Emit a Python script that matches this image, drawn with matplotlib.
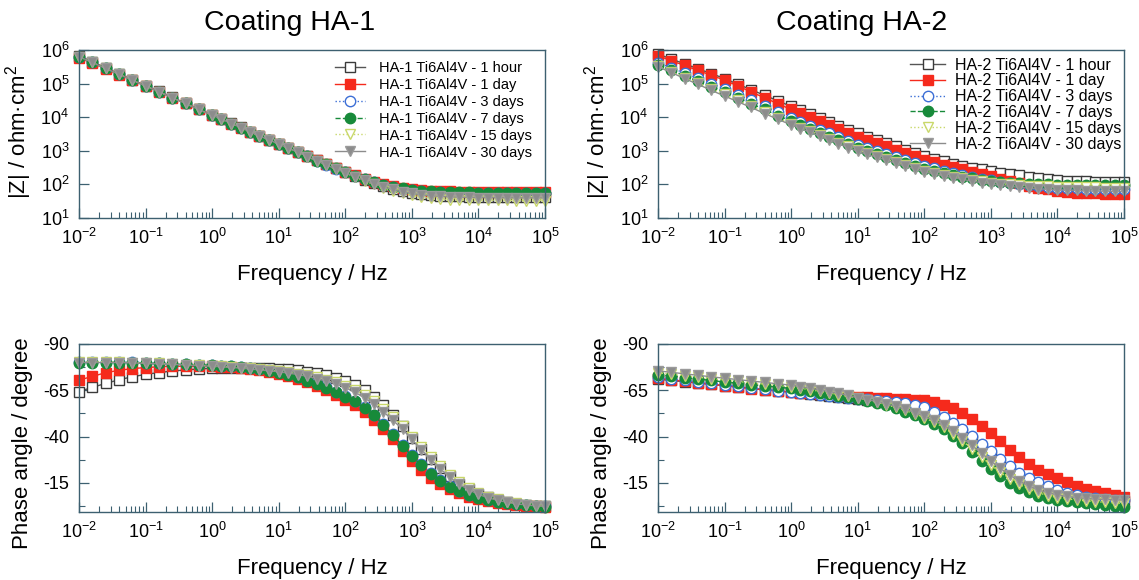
import numpy as np
import matplotlib
matplotlib.use("Agg")
import matplotlib.pyplot as plt
from matplotlib.ticker import FixedLocator, LogLocator, NullFormatter

plt.rcParams['font.family'] = ['Liberation Sans', 'DejaVu Sans']
plt.rcParams['mathtext.fontset'] = 'custom'
plt.rcParams['mathtext.rm'] = 'Liberation Sans'
plt.rcParams['mathtext.it'] = 'Liberation Sans:italic'
plt.rcParams['axes.unicode_minus'] = False

# log10 of frequency (Hz) for every measured point
log_f = [-2.0, -1.8, -1.6, -1.4, -1.2, -1.0, -0.8, -0.6, -0.4, -0.2,
         0.0, 0.14, 0.29, 0.43, 0.57, 0.71, 0.86, 1.0, 1.14, 1.29,
         1.43, 1.57, 1.71, 1.86, 2.0, 2.14, 2.29, 2.43, 2.57, 2.71,
         2.86, 3.0, 3.14, 3.29, 3.43, 3.57, 3.71, 3.86, 4.0, 4.14,
         4.29, 4.43, 4.57, 4.71, 4.86, 5.0]

times = ["1 hour", "1 day", "3 days", "7 days", "15 days", "30 days"]

# ---- Coating HA-1 : log10 |Z| (ohm cm2)
z1_1h = [5.82, 5.65, 5.47, 5.29, 5.11, 4.94, 4.77, 4.59, 4.42, 4.24,
         4.07, 3.95, 3.82, 3.70, 3.57, 3.45, 3.33, 3.21, 3.09, 2.97,
         2.85, 2.72, 2.60, 2.48, 2.37, 2.25, 2.14, 2.04, 1.95, 1.87,
         1.80, 1.75, 1.71, 1.68, 1.665, 1.65, 1.64, 1.635, 1.63, 1.63,
         1.63, 1.63, 1.63, 1.63, 1.63, 1.63]
z1_1d = [5.77, 5.61, 5.44, 5.27, 5.10, 4.93, 4.76, 4.58, 4.41, 4.23,
         4.06, 3.94, 3.81, 3.69, 3.56, 3.44, 3.32, 3.20, 3.08, 2.96,
         2.84, 2.72, 2.61, 2.49, 2.38, 2.27, 2.17, 2.08, 2.00, 1.94,
         1.89, 1.85, 1.83, 1.81, 1.80, 1.79, 1.78, 1.78, 1.77, 1.77,
         1.77, 1.77, 1.77, 1.77, 1.77, 1.77]
z1_3d = [5.80, 5.63, 5.45, 5.28, 5.10, 4.93, 4.76, 4.58, 4.41, 4.23,
         4.06, 3.94, 3.81, 3.69, 3.56, 3.44, 3.32, 3.20, 3.08, 2.96,
         2.84, 2.71, 2.59, 2.47, 2.36, 2.25, 2.15, 2.06, 1.98, 1.91,
         1.86, 1.82, 1.79, 1.77, 1.76, 1.75, 1.74, 1.74, 1.73, 1.73,
         1.73, 1.73, 1.73, 1.73, 1.73, 1.73]
z1_7d = [5.80, 5.63, 5.45, 5.28, 5.10, 4.93, 4.76, 4.58, 4.41, 4.23,
         4.06, 3.94, 3.81, 3.69, 3.56, 3.44, 3.32, 3.20, 3.08, 2.96,
         2.84, 2.71, 2.60, 2.48, 2.37, 2.26, 2.16, 2.07, 1.99, 1.93,
         1.88, 1.84, 1.81, 1.79, 1.78, 1.77, 1.76, 1.76, 1.75, 1.75,
         1.75, 1.75, 1.75, 1.75, 1.75, 1.75]
z1_15d = [5.80, 5.63, 5.45, 5.28, 5.10, 4.93, 4.76, 4.58, 4.41, 4.23,
          4.06, 3.94, 3.81, 3.69, 3.56, 3.44, 3.32, 3.20, 3.08, 2.96,
          2.83, 2.70, 2.58, 2.45, 2.34, 2.22, 2.10, 2.00, 1.90, 1.81,
          1.73, 1.67, 1.62, 1.59, 1.565, 1.55, 1.54, 1.535, 1.53, 1.53,
          1.525, 1.525, 1.52, 1.52, 1.52, 1.52]
z1_30d = [5.80, 5.63, 5.45, 5.28, 5.10, 4.93, 4.76, 4.58, 4.41, 4.23,
          4.06, 3.94, 3.81, 3.69, 3.56, 3.44, 3.32, 3.20, 3.08, 2.96,
          2.83, 2.70, 2.58, 2.46, 2.35, 2.23, 2.12, 2.02, 1.93, 1.85,
          1.78, 1.73, 1.69, 1.66, 1.645, 1.63, 1.62, 1.615, 1.61, 1.61,
          1.605, 1.605, 1.60, 1.60, 1.60, 1.60]

# ---- Coating HA-1 : phase angle (degree)
p1_1h = [-64.3, -66.6, -68.7, -70.7, -72.3, -73.6, -74.6, -75.4, -76.0, -76.5,
         -76.9, -77.1, -77.2, -77.3, -77.3, -77.2, -77.0, -76.7, -76.3, -75.8,
         -75.1, -74.3, -73.2, -71.8, -70.0, -67.8, -65.0, -61.5, -57.0, -51.5,
         -45.5, -39.5, -33.5, -28.0, -23.0, -18.5, -14.6, -11.5, -9.0, -7.2,
         -5.8, -4.7, -3.8, -3.2, -2.7, -2.3]
p1_1d = [-70.5, -72.5, -74.5, -75.8, -76.7, -77.3, -77.7, -78.0, -78.0, -78.0,
         -78.0, -77.8, -77.5, -77.0, -76.5, -75.8, -75.0, -74.0, -72.8, -71.3,
         -69.5, -67.5, -65.3, -62.7, -60.0, -57.0, -53.3, -49.0, -44.0, -38.5,
         -32.5, -27.0, -22.0, -17.8, -14.2, -11.5, -9.3, -7.5, -6.2, -5.1,
         -4.3, -3.6, -3.1, -2.7, -2.4, -2.1]
p1_3d = [-80.5, -80.5, -80.5, -80.3, -80.2, -80.0, -79.7, -79.3, -79.0, -78.7,
         -78.5, -78.2, -78.0, -77.5, -77.0, -76.5, -75.7, -74.8, -73.8, -72.3,
         -70.5, -68.8, -66.8, -64.3, -61.8, -59.2, -55.8, -51.8, -47.0, -41.5,
         -35.5, -30.0, -25.0, -20.4, -16.4, -13.3, -10.8, -8.7, -7.2, -5.9,
         -4.9, -4.1, -3.5, -3.0, -2.6, -2.3]
p1_7d = [-80.0, -80.0, -80.0, -80.0, -80.0, -79.5, -79.5, -79.0, -79.0, -78.5,
         -78.5, -78.0, -78.0, -77.5, -77.0, -76.5, -75.5, -74.5, -73.5, -72.0,
         -70.0, -68.5, -66.5, -64.0, -61.5, -59.0, -55.5, -51.5, -46.5, -41.0,
         -35.0, -29.5, -24.5, -20.0, -16.0, -13.0, -10.5, -8.5, -7.0, -5.8,
         -4.8, -4.0, -3.4, -2.9, -2.5, -2.2]
p1_15d = [-80.5, -80.5, -80.5, -80.3, -80.0, -79.7, -79.5, -79.2, -78.9, -78.5,
          -78.2, -77.9, -77.6, -77.2, -76.8, -76.3, -75.8, -75.3, -74.7, -74.0,
          -73.1, -72.0, -70.8, -69.3, -67.5, -65.2, -62.3, -59.0, -55.0, -50.5,
          -45.5, -40.0, -34.5, -29.0, -24.0, -19.3, -15.4, -12.2, -9.6, -7.6,
          -6.1, -4.9, -4.0, -3.3, -2.8, -2.4]
p1_30d = [-80.0, -80.0, -80.0, -80.0, -79.8, -79.5, -79.3, -79.0, -78.7, -78.3,
          -78.0, -77.7, -77.3, -77.0, -76.5, -76.0, -75.5, -75.0, -74.3, -73.5,
          -72.5, -71.3, -70.0, -68.5, -66.5, -64.0, -61.0, -57.5, -53.5, -49.0,
          -44.0, -38.5, -33.0, -27.5, -22.5, -18.0, -14.3, -11.2, -8.8, -7.0,
          -5.6, -4.5, -3.7, -3.1, -2.6, -2.3]

# ---- Coating HA-2 : log10 |Z| (ohm cm2)
z2_1h = [5.88, 5.73, 5.59, 5.44, 5.30, 5.15, 4.98, 4.82, 4.65, 4.49,
         4.32, 4.21, 4.09, 3.98, 3.86, 3.75, 3.63, 3.52, 3.42, 3.32,
         3.23, 3.13, 3.03, 2.93, 2.84, 2.76, 2.69, 2.62, 2.56, 2.50,
         2.45, 2.40, 2.35, 2.31, 2.27, 2.23, 2.19, 2.16, 2.13, 2.11,
         2.10, 2.09, 2.08, 2.075, 2.07, 2.07]
z2_1d = [5.83, 5.68, 5.54, 5.39, 5.25, 5.10, 4.93, 4.75, 4.58, 4.40,
         4.23, 4.12, 4.00, 3.88, 3.77, 3.65, 3.54, 3.42, 3.32, 3.23,
         3.13, 3.03, 2.94, 2.84, 2.74, 2.66, 2.59, 2.52, 2.45, 2.38,
         2.31, 2.24, 2.17, 2.10, 2.03, 1.96, 1.90, 1.85, 1.80, 1.77,
         1.75, 1.74, 1.73, 1.72, 1.72, 1.72]
z2_3d = [5.62, 5.47, 5.31, 5.16, 5.00, 4.85, 4.67, 4.50, 4.32, 4.15,
         3.97, 3.86, 3.74, 3.63, 3.52, 3.40, 3.29, 3.18, 3.09, 3.00,
         2.91, 2.82, 2.73, 2.64, 2.55, 2.48, 2.41, 2.35, 2.29, 2.23,
         2.17, 2.12, 2.08, 2.04, 2.01, 1.98, 1.95, 1.92, 1.90, 1.89,
         1.88, 1.87, 1.86, 1.86, 1.85, 1.85]
z2_7d = [5.55, 5.39, 5.23, 5.07, 4.91, 4.75, 4.58, 4.40, 4.23, 4.05,
         3.88, 3.77, 3.65, 3.54, 3.42, 3.31, 3.19, 3.08, 2.99, 2.90,
         2.81, 2.72, 2.63, 2.54, 2.45, 2.39, 2.33, 2.28, 2.23, 2.18,
         2.14, 2.10, 2.07, 2.05, 2.03, 2.02, 2.01, 2.00, 1.99, 1.99,
         1.99, 1.98, 1.98, 1.98, 1.98, 1.98]
z2_15d = [5.52, 5.35, 5.18, 5.02, 4.85, 4.68, 4.50, 4.33, 4.15, 3.98,
          3.80, 3.69, 3.58, 3.47, 3.35, 3.24, 3.13, 3.02, 2.93, 2.84,
          2.75, 2.67, 2.58, 2.49, 2.40, 2.34, 2.28, 2.23, 2.18, 2.13,
          2.09, 2.05, 2.02, 2.00, 1.98, 1.96, 1.95, 1.94, 1.93, 1.92,
          1.92, 1.91, 1.91, 1.90, 1.90, 1.90]
z2_30d = [5.50, 5.33, 5.15, 4.98, 4.80, 4.63, 4.46, 4.29, 4.11, 3.94,
          3.77, 3.66, 3.55, 3.43, 3.32, 3.21, 3.09, 2.98, 2.89, 2.81,
          2.72, 2.63, 2.54, 2.46, 2.37, 2.31, 2.25, 2.20, 2.15, 2.10,
          2.05, 2.01, 1.97, 1.94, 1.91, 1.89, 1.87, 1.85, 1.84, 1.83,
          1.82, 1.81, 1.80, 1.80, 1.79, 1.79]

# ---- Coating HA-2 : phase angle (degree)
p2_1h = [-71.0, -70.3, -69.6, -68.9, -68.2, -67.5, -66.8, -66.1, -65.4, -64.7,
         -64.0, -63.5, -63.0, -62.5, -62.0, -61.5, -61.0, -60.5, -60.0, -59.5,
         -58.6, -57.5, -56.2, -54.7, -53.0, -50.8, -48.0, -44.9, -41.5, -37.6,
         -33.0, -28.8, -24.8, -21.0, -17.7, -14.8, -12.5, -10.6, -9.0, -8.0,
         -7.2, -6.6, -6.2, -5.9, -5.7, -5.5]
p2_1d = [-71.5, -70.7, -69.9, -69.1, -68.3, -67.5, -66.7, -65.9, -65.2, -64.6,
         -64.0, -63.7, -63.4, -63.1, -62.8, -62.4, -62.0, -61.5, -61.2, -60.9,
         -60.6, -60.4, -60.1, -59.8, -59.5, -58.7, -57.2, -55.2, -52.5, -49.4,
         -45.8, -41.8, -37.5, -33.0, -28.8, -25.0, -22.0, -19.8, -17.5, -15.6,
         -13.6, -11.9, -10.6, -9.5, -8.5, -7.6]
p2_3d = [-72.0, -71.2, -70.4, -69.6, -68.8, -68.0, -67.2, -66.4, -65.6, -64.8,
         -64.0, -63.5, -63.0, -62.5, -62.0, -61.5, -61.0, -60.5, -60.1, -59.7,
         -59.3, -58.7, -58.0, -57.1, -56.0, -53.3, -50.5, -47.5, -44.2, -40.5,
         -36.2, -32.0, -28.0, -24.0, -20.6, -17.8, -15.3, -13.2, -11.2, -9.6,
         -8.3, -7.3, -6.7, -6.3, -6.0, -5.8]
p2_7d = [-73.5, -72.7, -71.9, -71.1, -70.3, -69.5, -68.8, -68.1, -67.4, -66.7,
         -66.0, -65.3, -64.5, -63.7, -62.9, -62.0, -61.3, -60.5, -59.4, -58.2,
         -56.8, -55.3, -53.5, -51.6, -49.5, -47.0, -44.0, -40.3, -36.3, -31.8,
         -27.0, -22.5, -18.6, -15.2, -12.4, -10.0, -8.2, -6.8, -5.8, -5.1,
         -4.6, -4.1, -3.6, -3.1, -2.6, -2.2]
p2_15d = [-74.5, -73.7, -72.9, -72.1, -71.3, -70.5, -69.8, -69.0, -68.3, -67.6,
          -66.9, -66.1, -65.3, -64.4, -63.6, -62.7, -61.7, -60.8, -59.7, -58.5,
          -57.2, -55.8, -54.1, -52.3, -50.2, -47.9, -45.0, -41.5, -37.8, -33.5,
          -29.0, -24.6, -20.7, -17.2, -14.2, -11.6, -9.7, -8.2, -7.1, -6.4,
          -5.8, -5.3, -4.9, -4.5, -4.2, -4.0]
p2_30d = [-75.5, -74.7, -73.9, -73.1, -72.3, -71.5, -70.8, -70.0, -69.3, -68.5,
          -67.8, -67.0, -66.1, -65.2, -64.3, -63.3, -62.2, -61.0, -60.0, -58.9,
          -57.7, -56.3, -54.7, -53.0, -51.0, -48.8, -46.0, -42.8, -39.3, -35.3,
          -31.0, -26.8, -22.8, -19.2, -16.0, -13.3, -11.2, -9.7, -8.5, -7.7,
          -7.1, -6.6, -6.3, -6.1, -5.9, -5.8]

freq = 10.0 ** np.array(log_f)

# marker / line style for each immersion time (same order as times)
styles = [
    dict(marker='s', mfc='white', mec='#3a3a3a', color='#555555', ls='-'),
    dict(marker='s', mfc='#f52a1c', mec='#f52a1c', color='#f52a1c', ls='-'),
    dict(marker='o', mfc='white', mec='#3c6fd6', color='#3c6fd6', ls=':'),
    dict(marker='o', mfc='#178a3a', mec='#178a3a', color='#178a3a', ls='--'),
    dict(marker='v', mfc='white', mec='#c9d86a', color='#c9d86a', ls=':'),
    dict(marker='v', mfc='#8c8c8c', mec='#9a9a9a', color='#8c8c8c', ls='-'),
]

frame_col = '#3d6070'
decades = [1e-2, 1e-1, 1e0, 1e1, 1e2, 1e3, 1e4, 1e5]
dec_labels = [r'$\mathregular{10^{%d}}$' % k for k in range(-2, 6)]


def draw(ax, series, prefix, log_z):
    for vals, st, t in zip(series, styles, times):
        y = 10.0 ** np.array(vals) if log_z else np.array(vals)
        ax.plot(freq, y, marker=st['marker'], ms=7.5, mew=1.0,
                mfc=st['mfc'], mec=st['mec'], color=st['color'],
                ls=st['ls'], lw=1.0, clip_on=False,
                label=prefix + ' Ti6Al4V - ' + t)


def style_axes(ax):
    ax.set_xscale('log')
    ax.set_xlim(1e-2, 1e5)
    ax.xaxis.set_major_locator(FixedLocator(decades))
    ax.set_xticklabels(dec_labels)
    ax.xaxis.set_minor_locator(LogLocator(base=10, subs=np.arange(2, 10)))
    ax.xaxis.set_minor_formatter(NullFormatter())
    for s in ax.spines.values():
        s.set_color(frame_col)
        s.set_linewidth(1.0)
    ax.tick_params(which='both', direction='in', color=frame_col,
                   top=False, right=False, labelsize=13, pad=7)
    ax.tick_params(which='major', length=7, width=0.9)
    ax.tick_params(which='minor', length=4.5, width=0.8)
    ax.set_xlabel('Frequency / Hz', fontsize=16, labelpad=12)


fig = plt.figure(figsize=(11.39, 5.8), dpi=100)
W, H = 1139.0, 580.0
ax_z1 = fig.add_axes([79 / W, 1 - 218 / H, 466 / W, 168 / H])
ax_z2 = fig.add_axes([658 / W, 1 - 218 / H, 466 / W, 168 / H])
ax_p1 = fig.add_axes([79 / W, 1 - 512 / H, 466 / W, 168 / H])
ax_p2 = fig.add_axes([658 / W, 1 - 512 / H, 466 / W, 168 / H])

draw(ax_z1, [z1_1h, z1_1d, z1_3d, z1_7d, z1_15d, z1_30d], 'HA-1', True)
draw(ax_z2, [z2_1h, z2_1d, z2_3d, z2_7d, z2_15d, z2_30d], 'HA-2', True)
draw(ax_p1, [p1_1h, p1_1d, p1_3d, p1_7d, p1_15d, p1_30d], 'HA-1', False)
draw(ax_p2, [p2_1h, p2_1d, p2_3d, p2_7d, p2_15d, p2_30d], 'HA-2', False)

for ax in (ax_z1, ax_z2):
    style_axes(ax)
    ax.set_yscale('log')
    ax.set_ylim(1e1, 1e6)
    ax.yaxis.set_major_locator(FixedLocator([1e1, 1e2, 1e3, 1e4, 1e5, 1e6]))
    ax.set_yticklabels([r'$\mathregular{10^{%d}}$' % k for k in range(1, 7)])
    ax.yaxis.set_minor_locator(LogLocator(base=10, subs=np.arange(2, 10)))
    ax.yaxis.set_minor_formatter(NullFormatter())
    ax.set_ylabel(r'|Z| / ohm·cm$\mathregular{^2}$', fontsize=16)
    ax.yaxis.set_label_coords(-0.096, 0.51)

for ax in (ax_p1, ax_p2):
    style_axes(ax)
    ax.set_ylim(0.7, -90)
    ax.yaxis.set_major_locator(FixedLocator([-90, -65, -40, -15]))
    ax.yaxis.set_minor_locator(FixedLocator([-77.5, -52.5, -27.5, -2.5]))
    ax.set_ylabel('Phase angle / degree', fontsize=16)
    ax.yaxis.set_label_coords(-0.098, 0.41)

ax_z1.legend(loc='upper left', bbox_to_anchor=(0.549, 0.935), frameon=False,
             fontsize=10.5, handlelength=2.05, handletextpad=1.0,
             labelspacing=0.2, borderpad=0, borderaxespad=0)
ax_z2.legend(loc='upper left', bbox_to_anchor=(0.541, 0.955), frameon=False,
             fontsize=11.5, handlelength=2.2, handletextpad=0.6,
             labelspacing=0.05, borderpad=0, borderaxespad=0)

fig.text(290 / W, 1 - 23 / H, 'Coating HA-1', fontsize=20.5,
         ha='center', va='center')
fig.text(862 / W, 1 - 23 / H, 'Coating HA-2', fontsize=20.5,
         ha='center', va='center')

fig.savefig('out.png', dpi=100)
